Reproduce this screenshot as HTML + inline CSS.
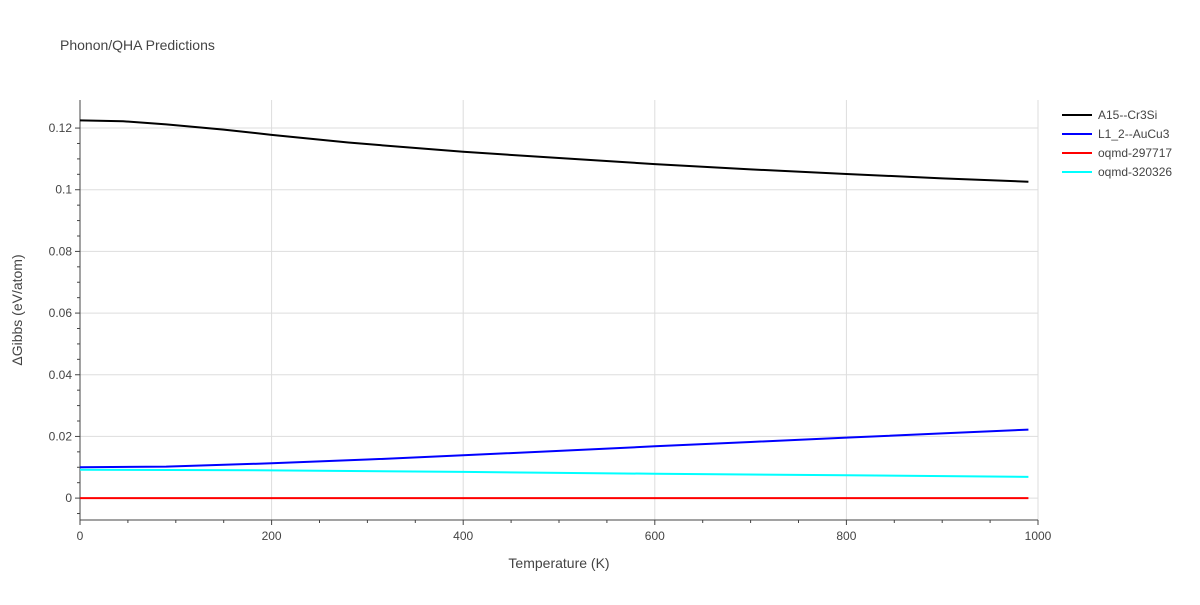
<!DOCTYPE html>
<html><head><meta charset="utf-8"><style>
body{margin:0;background:#fff;font-family:"Liberation Sans",Arial,sans-serif}
svg text{font-family:"Liberation Sans",Arial,sans-serif;fill:#444}
</style></head><body>
<svg id="chart" width="1200" height="600">
<text x="60" y="50" font-size="14">Phonon/QHA Predictions</text>
<g id="grid"></g><g id="axes"></g><g id="series"></g><g id="legend"></g>
<text x="559" y="568" font-size="14" text-anchor="middle">Temperature (K)</text>
<text transform="translate(22,310) rotate(-90)" font-size="14" text-anchor="middle">ΔGibbs (eV/atom)</text>
</svg>
<script>
const xTicks=[0,200,400,600,800,1000];
const yTicks=[0,0.02,0.04,0.06,0.08,0.1,0.12];
const yTickLabels=["0","0.02","0.04","0.06","0.08","0.1","0.12"];
const seriesNames=["A15--Cr3Si","L1_2--AuCu3","oqmd-297717","oqmd-320326"];
const seriesColors=["#000000","#0000ff","#ff0000","#00ffff"];
const tA=[0,45,90,150,200,280,400,500,600,700,800,900,990];
const vA=[0.1225,0.1222,0.1212,0.1195,0.1178,0.1153,0.1123,0.1103,0.1083,0.1066,0.1051,0.1037,0.1026];
const tB=[0,90,200,300,400,500,600,700,800,900,990];
const vB=[0.0100,0.0102,0.0113,0.0125,0.0139,0.0153,0.0168,0.0182,0.0196,0.0210,0.0222];
const tC=[0,990];
const vC=[0,0];
const tD=[0,200,400,600,800,990];
const vD=[0.0092,0.0090,0.0085,0.0079,0.0074,0.0069];
const L=80,R=1038,T=100,B=520,X0=0,X1=1000,Y0=-0.0071,Y1=0.1291;
const sx=v=>L+(v-X0)/(X1-X0)*(R-L);
const sy=v=>B-(v-Y0)/(Y1-Y0)*(B-T);
const NS="http://www.w3.org/2000/svg";
function mk(tag,parent,attrs){const e=document.createElementNS(NS,tag);for(const k in attrs)e.setAttribute(k,attrs[k]);document.getElementById(parent).appendChild(e);return e;}
xTicks.forEach(t=>{
 const g=mk('line','grid',{x1:sx(t),x2:sx(t),y1:T,y2:B,stroke:t===0?'#444':'#ddd'});
 
 
 const l=mk('text','axes',{x:sx(t),y:B+20,'font-size':12,'text-anchor':'middle'});l.textContent=t;
 
 
});
for(let t=0;t<=1000;t+=50){mk('line','axes',{x1:sx(t),x2:sx(t),y1:B,y2:B+(t%200===0?5:3),stroke:'#444'});}
yTicks.forEach((t,i)=>{
 const g=mk('line','grid',{x1:L,x2:R,y1:sy(t),y2:sy(t),stroke:'#ddd'});
 
 
 const l=mk('text','axes',{x:L-8,y:sy(t)+4,'font-size':12,'text-anchor':'end'});l.textContent=yTickLabels[i];
 
 
});
for(let t=-0.005;t<=0.125;t+=0.005){mk('line','axes',{x1:L-(Math.abs(t/0.02-Math.round(t/0.02))<1e-6?5:3),x2:L,y1:sy(t),y2:sy(t),stroke:'#444'});}
const ax=mk('line','axes',{x1:L,x2:L,y1:T,y2:B,stroke:'#444'});


const bx=mk('line','axes',{x1:L,x2:R,y1:B,y2:B,stroke:'#444'});


const data=[[tA,vA],[tB,vB],[tC,vC],[tD,vD]];
data.forEach((d,i)=>{
 const pts=d[0].map((t,j)=>sx(t)+','+sy(d[1][j])).join(' ');
 const p=mk('polyline','series',{points:pts,fill:'none',stroke:seriesColors[i],'stroke-width':2});
 
 
 const y=115+i*19;
 const ll=mk('line','legend',{x1:1062,x2:1092,y1:y,y2:y,stroke:seriesColors[i],'stroke-width':2});
 
 
 const lt=mk('text','legend',{x:1098,y:y+4,'font-size':12});lt.textContent=seriesNames[i];
 
 
});
</script>
</body></html>
